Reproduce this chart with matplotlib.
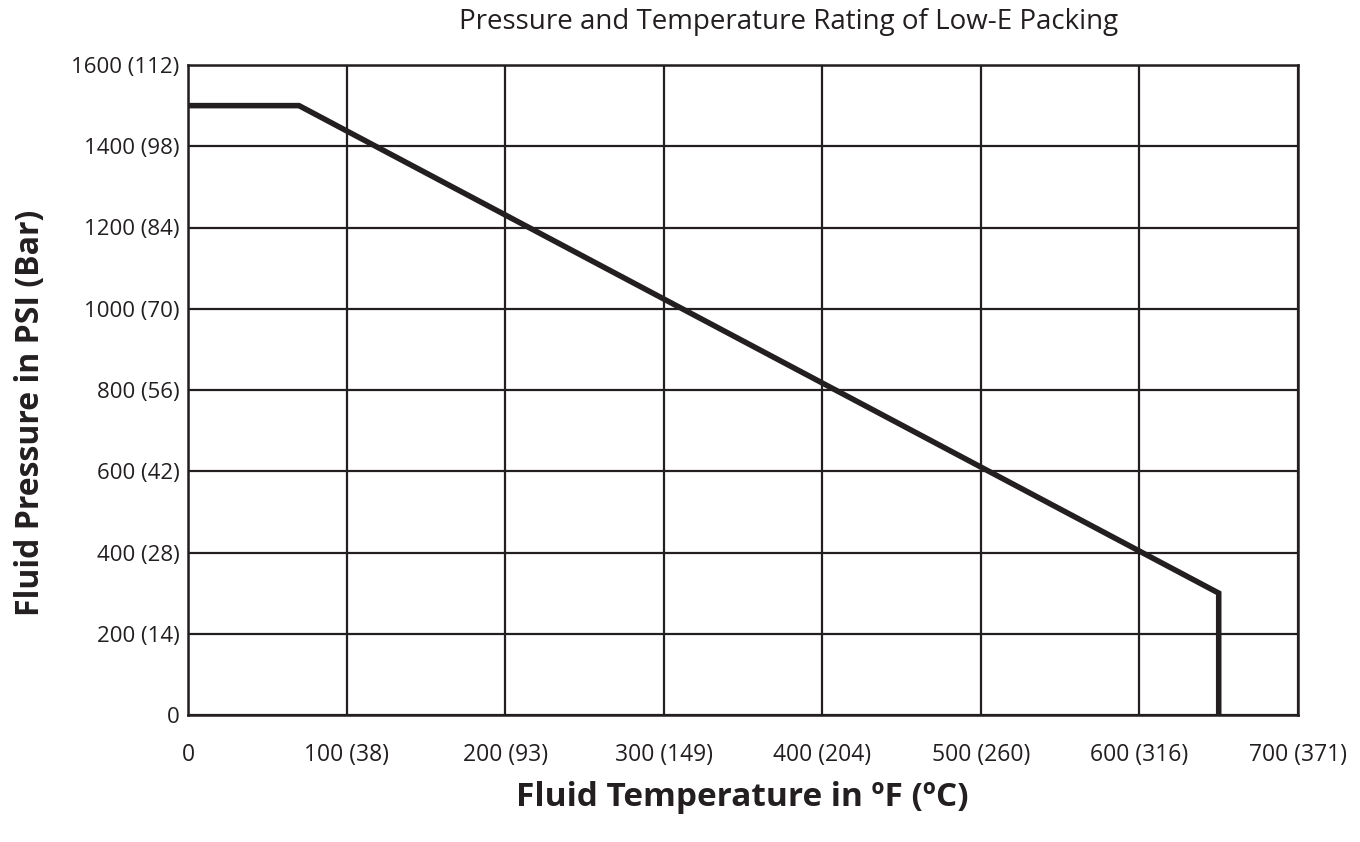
import matplotlib
matplotlib.use("Agg")
import matplotlib.pyplot as plt

plt.rcParams['font.family'] = ['Open Sans', 'DejaVu Sans']

temp_f = [0, 70, 650, 650]
pressure_psi = [1500, 1500, 300, 0]

x_ticks = [0, 100, 200, 300, 400, 500, 600, 700]
x_labels = ["0", "100 (38)", "200 (93)", "300 (149)", "400 (204)", "500 (260)", "600 (316)", "700 (371)"]
y_ticks = [0, 200, 400, 600, 800, 1000, 1200, 1400, 1600]
y_labels = ["0", "200 (14)", "400 (28)", "600 (42)", "800 (56)", "1000 (70)", "1200 (84)", "1400 (98)", "1600 (112)"]

title = "Pressure and Temperature Rating of Low-E Packing"
xlabel = "Fluid Temperature in ºF (ºC)"
ylabel = "Fluid Pressure in PSI (Bar)"

ink = "#231f20"

fig = plt.figure(figsize=(13.6, 8.42), dpi=100)
ax = fig.add_axes([188/1360, 1 - 715/842, (1298-188)/1360, (715-65)/842])

ax.set_xlim(0, 700)
ax.set_ylim(0, 1600)
ax.set_xticks(x_ticks)
ax.set_xticklabels(x_labels, va='baseline')
ax.set_yticks(y_ticks)
ax.set_yticklabels(y_labels, va='center_baseline')
ax.tick_params(axis='x', length=0, labelsize=16.5, colors=ink, pad=33)
ax.tick_params(axis='y', length=0, labelsize=16, colors=ink, pad=6)

ax.grid(True, color=ink, linewidth=1.6)
ax.set_axisbelow(True)
for s in ax.spines.values():
    s.set_color(ink)
    s.set_linewidth(1.8)

ax.plot(temp_f, pressure_psi, color=ink, linewidth=4.0, solid_joinstyle='miter', solid_capstyle='butt', zorder=3)

fig.text(789/1360, 1 - 22/842, title, ha='center', va='center', fontsize=20, color=ink)
fig.text(742/1360, 1 - 798/842, xlabel, ha='center', va='center', fontsize=24, fontweight='bold', color=ink)
fig.text(31/1360, 1 - 413/842, ylabel, ha='center', va='center', rotation=90, fontsize=23, fontweight='bold', color=ink)

fig.savefig("out.png", dpi=100)
